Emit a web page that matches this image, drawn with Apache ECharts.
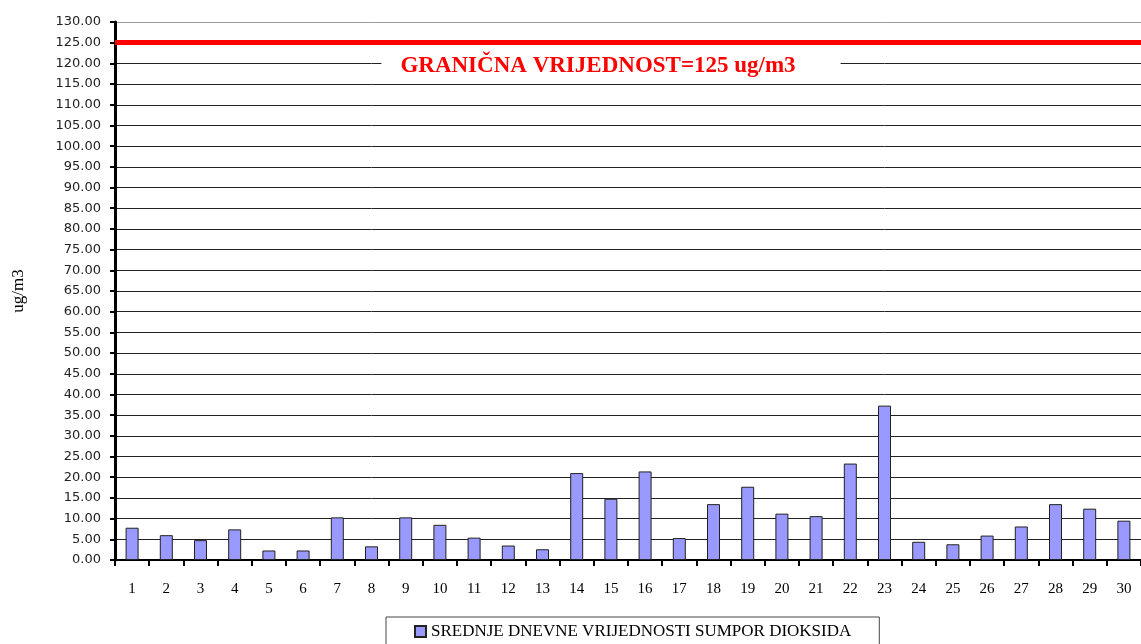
<!DOCTYPE html>
<html>
<head>
<meta charset="utf-8">
<script src="https://cdn.jsdelivr.net/npm/echarts@6/dist/echarts.min.js"></script>
<style>html,body{margin:0;padding:0;background:#fff;}#c{width:1141px;height:644px;}</style>
</head>
<body>
<div id="c"></div>
<script>
var days = ['1','2','3','4','5','6','7','8','9','10','11','12','13','14','15','16','17','18','19','20','21','22','23','24','25','26','27','28','29','30'];
var so2 = [7.8,6.0,4.8,7.4,2.3,2.3,10.3,3.3,10.3,8.5,5.4,3.5,2.6,21.0,14.8,21.4,5.3,13.5,17.7,11.2,10.6,23.3,37.3,4.4,3.8,5.9,8.1,13.5,12.4,9.5];
var limitValue = 125;
var limitLabel = 'GRANIČNA VRIJEDNOST=125 ug/m3';
var seriesName = 'SREDNJE DNEVNE VRIJEDNOSTI SUMPOR DIOKSIDA';
var yName = 'ug/m3';

var gridColors = [];
for (var i = 0; i < 26; i++) gridColors.push('#222');
gridColors.push('#9a9a9a');

var chart = echarts.init(document.getElementById('c'), null, {renderer: 'canvas'});
chart.setOption({
  animation: false,
  backgroundColor: '#fff',
  grid: {left: 115, right: 0, top: 22, bottom: 84, containLabel: false},
  legend: {
    data: [{name: seriesName, icon: 'rect'}],
    top: 617, left: 386,
    padding: [6, 28, 12, 28],
    borderColor: '#444', borderWidth: 1,
    itemWidth: 11, itemHeight: 11, itemGap: 5,
    textStyle: {fontFamily: 'Liberation Serif', fontSize: 17, color: '#000'}
  },
  xAxis: {
    type: 'category', data: days, boundaryGap: true,
    axisLine: {lineStyle: {color: '#000', width: 2}},
    axisTick: {show: true, alignWithLabel: false, length: 6, lineStyle: {color: '#000', width: 2}},
    axisLabel: {fontFamily: 'Liberation Serif', fontSize: 15, color: '#000', margin: 22, interval: 0},
    splitLine: {show: false}
  },
  yAxis: {
    type: 'value', min: 0, max: 130, interval: 5,
    name: yName, nameLocation: 'middle', nameGap: 88, nameRotate: 90,
    nameTextStyle: {fontFamily: 'Liberation Serif', fontSize: 17, color: '#000'},
    axisLine: {show: true, lineStyle: {color: '#000', width: 3}},
    axisTick: {show: true, length: 5, lineStyle: {color: '#000', width: 2}},
    axisLabel: {fontFamily: 'DejaVu Sans', fontSize: 13, color: '#222', margin: 14,
      formatter: function (v) { return v.toFixed(2); }},
    splitLine: {show: true, lineStyle: {color: gridColors, width: 1}}
  },
  series: [{
    name: seriesName, type: 'bar', data: so2, barWidth: 13,
    itemStyle: {color: '#9999FF', borderColor: '#222', borderWidth: 1},
    markLine: {
      silent: true, symbol: 'none',
      data: [{yAxis: limitValue}],
      lineStyle: {color: '#FF0000', width: 5, type: 'solid'},
      label: {
        show: true, position: 'insideMiddleBottom', formatter: limitLabel,
        fontFamily: 'Liberation Serif', fontWeight: 'bold', fontSize: 23, color: '#FF0000',
        backgroundColor: '#fff', padding: [2, 45, 2, 19], distance: 10,
        offset: [-17, 0]
      }
    }
  }]
});
</script>
</body>
</html>
